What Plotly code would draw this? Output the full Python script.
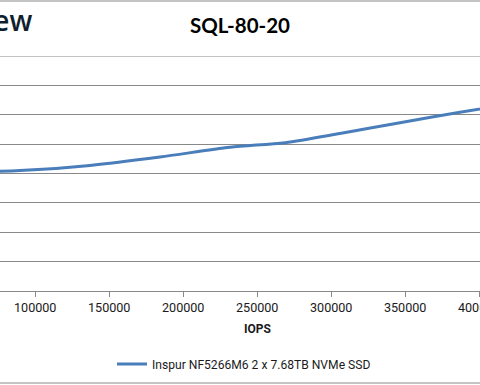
import plotly.graph_objects as go

# Data (IOPS vs average latency, ms)
iops = [49000, 89700, 137000, 184300, 231600, 268800, 305900, 346500, 387000, 420800]
latency_ms = [0.807, 0.820, 0.855, 0.912, 0.979, 1.010, 1.072, 1.146, 1.217, 1.273]
series_name = "Inspur NF5266M6 2 x 7.68TB NVMe SSD"
chart_title = "SQL-80-20"
x_title = "IOPS"
x_ticks = [100000, 150000, 200000, 250000, 300000, 350000, 400000]

W, H = 480, 385          # reference picture size (x positions given as fractions of W)
FIG_W = 500              # browser viewport width used for the page
T, B = 56, 94
PLOT_H = H - T - B


def py(p):
    """pixel y -> paper y"""
    return (H - B - p) / PLOT_H


def px(p):
    """pixel x (in reference picture) -> paper x"""
    return p / W


fig = go.Figure()
fig.add_trace(go.Scatter(
    x=iops, y=latency_ms, mode="lines", name=series_name,
    line=dict(color="#4A7EBB", width=3, shape="spline", smoothing=0.8),
))

grid = "#888888"
txt = "#1a1a1a"
fig.update_layout(
    width=FIG_W, height=H,
    margin=dict(l=0, r=0, t=T, b=B, pad=0),
    paper_bgcolor="white", plot_bgcolor="white",
    font=dict(family="Roboto", size=12, color=txt),
    showlegend=True,
    legend=dict(orientation="h", x=px(112), xanchor="left", y=py(364), yanchor="middle",
                font=dict(family="Roboto", size=12.1, color=txt), bgcolor="rgba(0,0,0,0)"),
    xaxis=dict(range=[76200, 400540], tickvals=x_ticks, ticktext=[str(v) for v in x_ticks],
               showgrid=False, zeroline=False, showline=True, linecolor=grid, linewidth=1,
               ticks="outside", ticklen=5, tickcolor=grid, ticklabeloverflow="allow",
               tickfont=dict(family="Roboto", size=12.6, color=txt)),
    yaxis=dict(range=[0, 1.6], dtick=0.2, showgrid=True, gridcolor=grid, gridwidth=1,
               zeroline=False, showticklabels=False, showline=False),
)

annotations = [
    dict(text="<b>" + chart_title + "</b>", x=0.5, y=py(25), xref="paper", yref="paper",
         xanchor="center", yanchor="middle", showarrow=False,
         font=dict(family="Lato", size=20.5, color="#000000")),
    dict(text="StorageReview", x=px(34), y=py(20), xref="paper", yref="paper",
         xanchor="right", yanchor="middle", showarrow=False,
         font=dict(family="Open Sans", size=28, color="#0f1f2e", weight=600)),
    dict(text="<b>" + x_title + "</b>", x=px(257), y=py(329), xref="paper", yref="paper",
         xanchor="center", yanchor="middle", showarrow=False,
         font=dict(family="Roboto", size=12, color=txt)),
]
fig.update_layout(annotations=annotations)

# top gridline (at the range maximum) and chart border lines
fig.add_shape(type="line", xref="paper", yref="y", x0=0, x1=1, y0=1.6, y1=1.6,
              line=dict(color=grid, width=1), layer="below")
fig.add_shape(type="line", xref="paper", yref="paper", x0=0, x1=1, y0=py(1), y1=py(1),
              line=dict(color=grid, width=1))
fig.add_shape(type="line", xref="paper", yref="paper", x0=0, x1=1, y0=py(383), y1=py(383),
              line=dict(color=grid, width=1))

fig.write_html(
    "out.html",
    config={"displayModeBar": False},
    post_script="document.body.style.margin='0';document.body.style.overflow='hidden';",
)
